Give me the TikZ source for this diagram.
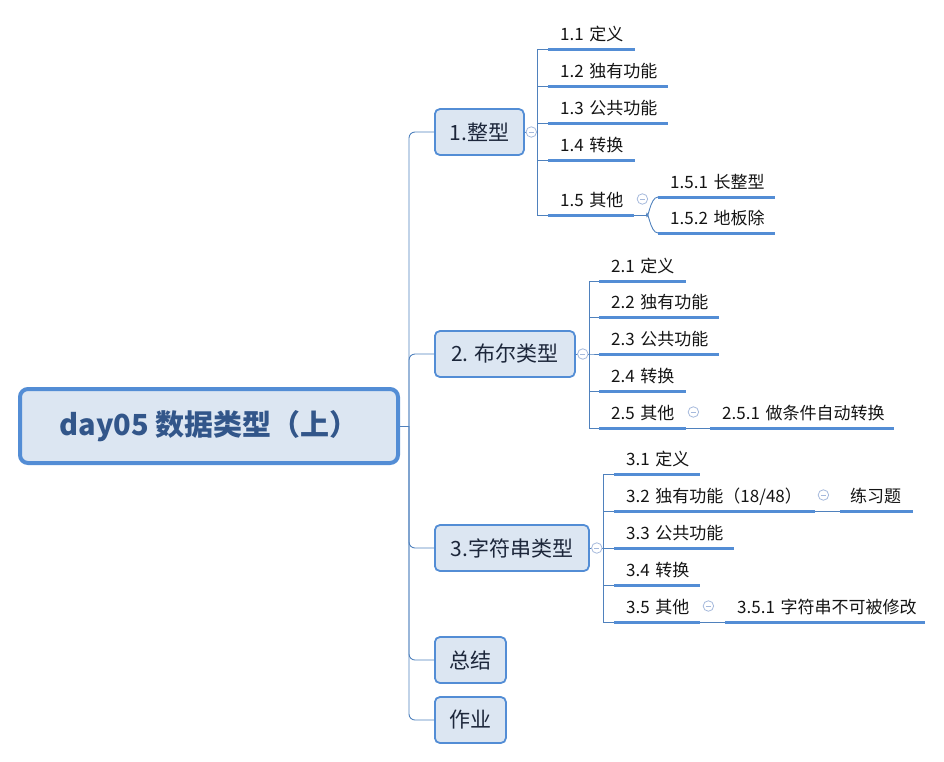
\documentclass[tikz,border=0pt]{standalone}
\usepackage{fontspec}
\setmainfont{Noto Sans CJK SC}
\usetikzlibrary{calc,positioning}
\definecolor{mapline}{RGB}{83,141,213}
\definecolor{mapfill}{RGB}{220,230,242}
\definecolor{linkc}{RGB}{79,129,189}
\definecolor{foldc}{RGB}{165,185,220}
\definecolor{roottext}{RGB}{50,86,138}
\definecolor{topictext}{RGB}{28,38,58}
\definecolor{itemtext}{RGB}{20,20,20}

\begin{document}
\begin{tikzpicture}[x=1pt, y=-1pt,
  root/.style={rectangle, draw=mapline, line width=4pt, fill=mapfill, rounded corners=8pt, minimum width=378pt, minimum height=74pt, text=roottext, font=\fontsize{29}{34}\selectfont\bfseries},
  topic/.style={rectangle, draw=mapline, line width=1.8pt, fill=mapfill, rounded corners=5pt, minimum height=46pt, inner xsep=0pt, anchor=west, text=topictext, font=\fontsize{21}{25}\selectfont},
  item/.style={anchor=south west, inner xsep=12pt, inner ysep=3pt, text height=12pt, text depth=5pt, text width=#1, align=left, text=itemtext, font=\fontsize{17}{20}\selectfont},
  uline/.style={draw=mapline, line width=3pt},
  link/.style={draw=linkc, line width=0.9pt},
  fold/.style={circle, draw=foldc, fill=white, line width=0.8pt, inner sep=0pt, minimum size=10.5pt,
    path picture={\draw[foldc, line width=0.8pt] ([xshift=-2.6pt]path picture bounding box.center) -- ([xshift=2.6pt]path picture bounding box.center);}}
]
\useasboundingbox (0,0) rectangle (944,761);

\node[root] (day) at (209,426) {day05 数据类型（上）};

\node[topic, minimum width=89pt] (n1) at (434,132) {1.整型};
\node[topic, minimum width=140pt] (n2) at (434,354) {2. 布尔类型};
\node[topic, minimum width=154pt] (n3) at (434,548) {3.字符串类型};
\node[topic, minimum width=71pt] (n4) at (434,660) {总结};
\node[topic, minimum width=71pt] (n5) at (434,720) {作业};

% 1.整型
\node[item=63pt] (a11) at (548,49) {1.1~定义};
\node[item=96pt] (a12) at (548,86) {1.2~独有功能};
\node[item=96pt] (a13) at (548,123) {1.3~公共功能};
\node[item=63pt] (a14) at (548,160) {1.4~转换};
\node[item=62pt] (a15) at (548,215) {1.5~其他};
\node[item=93pt] (b151) at (658,197) {1.5.1~长整型};
\node[item=93pt] (b152) at (658,233) {1.5.2~地板除};

% 2. 布尔类型
\node[item=63pt] (a21) at (599,281) {2.1~定义};
\node[item=96pt] (a22) at (599,317) {2.2~独有功能};
\node[item=96pt] (a23) at (599,354) {2.3~公共功能};
\node[item=63pt] (a24) at (599,391) {2.4~转换};
\node[item=63pt] (a25) at (599,428) {2.5~其他};
\node[item=160pt] (b251) at (710,428) {2.5.1~做条件自动转换};

% 3.字符串类型
\node[item=62pt] (a31) at (614,474) {3.1~定义};
\node[item=177pt] (a32) at (614,511) {3.2~独有功能（18/48）};
\node[item=50pt, inner xsep=10pt, text width=53pt] (b32) at (840,511) {练习题};
\node[item=96pt] (a33) at (614,548) {3.3~公共功能};
\node[item=62pt] (a34) at (614,585) {3.4~转换};
\node[item=62pt] (a35) at (614,622) {3.5~其他};
\node[item=176pt] (b351) at (725,622) {3.5.1~字符串不可被修改};

\foreach \u in {a11,a12,a13,a14,a15,b151,b152,a21,a22,a23,a24,a25,b251,a31,a32,b32,a33,a34,a35,b351}
  \draw[uline] (\u.south west) -- (\u.south east);

% trunk
\coordinate (trunk) at ($(day.east)+(9,0)$);
\draw[link] (day.east) -- (trunk);
\foreach \n in {n1,n2,n3,n4,n5}
  \draw[link, rounded corners=6pt] (trunk) |- (\n.west);

% branches
\coordinate (s1) at ($(n1.east)+(13,0)$);
\coordinate (s2) at ($(n2.east)+(14,0)$);
\coordinate (s3) at ($(n3.east)+(14,0)$);
\foreach \k/\a in {1/a11,1/a12,1/a13,1/a14,1/a15,2/a21,2/a22,2/a23,2/a24,2/a25,3/a31,3/a32,3/a33,3/a34,3/a35}
  \draw[link] (n\k.east) -- (s\k) |- (\a.south west);

\coordinate (j15) at ($(a15.south east)+(12,0)$);
\draw[link] (a15.south east) -- (j15);
\draw[link] (j15) to[out=-80, in=180] (b151.south west);
\draw[link] (j15) to[out=80, in=180] (b152.south west);
\draw[link] (a25.south east) -- (b251.south west);
\draw[link] (a32.south east) -- (b32.south west);
\draw[link] (a35.south east) -- (b351.south west);

% fold marks
\node[fold] (f1) at ($(n1.east)!0.5!(s1)$) {};
\node[fold] (f2) at ($(n2.east)!0.5!(s2)$) {};
\node[fold] (f3) at ($(n3.east)!0.5!(s3)$) {};
\node[fold] (f15) at ($(a15.south east)+(8,-16)$) {};
\node[fold] (f25) at ($(a25.south east)+(7,-16)$) {};
\node[fold] (f32) at ($(a32.south east)+(8,-16)$) {};
\node[fold] (f35) at ($(a35.south east)+(8,-16)$) {};
\end{tikzpicture}
\end{document}
